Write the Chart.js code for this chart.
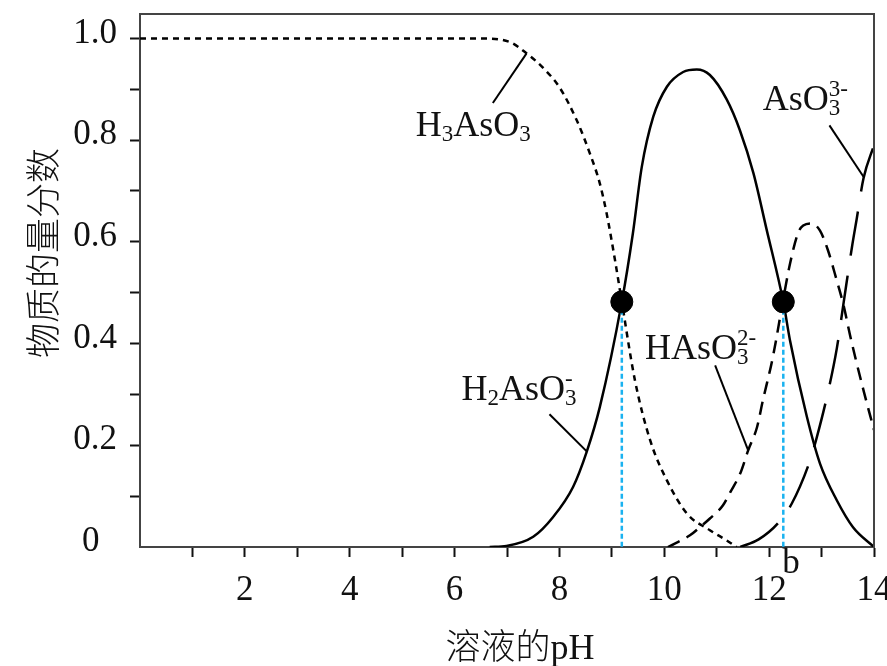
<!DOCTYPE html>
<html>
<head>
<meta charset="utf-8">
<script src="https://cdn.jsdelivr.net/npm/chart.js@4.4.1/dist/chart.umd.min.js"></script>
<style>
  html, body { margin: 0; padding: 0; background: #fff; }
</style>
</head>
<body>
<canvas id="chart" width="887" height="666"></canvas>
<script>
// values (pH -> mole fraction)
const h3PH  = [0, 1, 2, 3, 4, 5, 6, 6.48, 7.05, 7.37, 7.68, 8.0, 8.33, 8.58, 8.77, 8.9, 9.06, 9.19, 9.44, 9.73, 10.05, 10.43, 10.87, 11.19, 11.38];
const h3Val = [1, 1, 1, 1, 1, 1, 1, 1, 0.993, 0.971, 0.943, 0.904, 0.839, 0.774, 0.715, 0.656, 0.564, 0.482, 0.328, 0.21, 0.131, 0.066, 0.033, 0.013, 0];

const h2PH  = [6.67, 6.99, 7.5, 7.88, 8.26, 8.52, 8.77, 9.19, 9.40, 9.57, 9.79, 10.05, 10.36, 10.62, 10.87, 11.19, 11.44, 11.70, 11.95, 12.27, 12.40, 12.72, 12.97, 13.29, 13.6, 14.0];
const h2Val = [0, 0.002, 0.02, 0.059, 0.118, 0.187, 0.275, 0.482, 0.616, 0.747, 0.846, 0.905, 0.934, 0.939, 0.928, 0.880, 0.820, 0.735, 0.625, 0.482, 0.405, 0.256, 0.164, 0.092, 0.039, 0];

const h1PH  = [10.07, 10.49, 10.68, 10.87, 11.12, 11.26, 11.45, 11.6, 11.77, 11.88, 12.07, 12.3, 12.4, 12.55, 12.65, 12.81, 12.97, 13.12, 13.29, 13.42, 13.54, 13.64, 13.8, 14.0];
const h1Val = [0, 0.023, 0.039, 0.056, 0.082, 0.108, 0.145, 0.19, 0.236, 0.288, 0.373, 0.505, 0.558, 0.617, 0.632, 0.636, 0.622, 0.584, 0.524, 0.475, 0.418, 0.374, 0.308, 0.23];

const asPH  = [11.45, 11.8, 12.17, 12.43, 12.78, 12.91, 13.13, 13.29, 13.42, 13.58, 13.67, 13.8, 14.0];
const asVal = [0, 0.015, 0.047, 0.085, 0.17, 0.216, 0.308, 0.39, 0.48, 0.59, 0.645, 0.725, 0.79];

// crossing points
const crossPH  = [9.19, 12.27];
const crossVal = [0.482, 0.482];

const xTicks = [1, 2, 3, 4, 5, 6, 7, 8, 9, 10, 11, 12, 13, 14];
const yTicks = [0, 0.1, 0.2, 0.3, 0.4, 0.5, 0.6, 0.7, 0.8, 0.9, 1.0];

const toPts = (xs, ys) => xs.map((x, i) => ({ x: x, y: ys[i] }));

const SERIF = '"Liberation Serif", "Times New Roman", serif';
const CJK = '"Noto Sans CJK SC", sans-serif';

// species labels: [text, kind] where kind is '', 'sub' or 'subsup'
const labels = [
  { x: 5.26, y: 0.809, parts: [['H', ''], ['3', 'sub'], ['AsO', ''], ['3', 'sub']] },
  { x: 6.13, y: 0.2885, parts: [['H', ''], ['2', 'sub'], ['AsO', ''], ['3', 'subsup', '-']] },
  { x: 9.63, y: 0.369, parts: [['HAsO', ''], ['3', 'subsup', '2-']] },
  { x: 11.88, y: 0.859, parts: [['AsO', ''], ['3', 'subsup', '3-']] }
];
const leaders = [
  [7.37, 0.970, 6.73, 0.873],
  [7.81, 0.261, 8.53, 0.187],
  [10.97, 0.357, 11.6, 0.19],
  [13.15, 0.829, 13.8, 0.728]
];

const drawChem = (ctx, parts, x, y) => {
  let cx = x;
  parts.forEach(p => {
    if (p[1] === '') {
      ctx.font = '36px ' + SERIF;
      ctx.fillText(p[0], cx, y);
      cx += ctx.measureText(p[0]).width;
    } else if (p[1] === 'sub') {
      ctx.font = '23px ' + SERIF;
      ctx.fillText(p[0], cx, y + 5);
      cx += ctx.measureText(p[0]).width;
    } else {
      ctx.font = '23px ' + SERIF;
      ctx.fillText(p[0], cx, y + 5);
      const w1 = ctx.measureText(p[0]).width;
      ctx.fillText(p[2], cx, y - 14);
      cx += Math.max(w1, ctx.measureText(p[2]).width);
    }
  });
};

const decorations = {
  id: 'decorations',
  afterDraw(chart) {
    const ctx = chart.ctx;
    const a = chart.chartArea;
    const xs = chart.scales.x, ys = chart.scales.y;
    ctx.save();
    // frame top and right
    ctx.strokeStyle = '#444';
    ctx.lineWidth = 2;
    ctx.beginPath();
    ctx.moveTo(a.left, a.top);
    ctx.lineTo(a.right, a.top);
    ctx.lineTo(a.right, a.bottom);
    ctx.stroke();

    // leader lines
    ctx.strokeStyle = '#000';
    ctx.lineWidth = 2;
    leaders.forEach(l => {
      ctx.beginPath();
      ctx.moveTo(xs.getPixelForValue(l[0]), ys.getPixelForValue(l[1]));
      ctx.lineTo(xs.getPixelForValue(l[2]), ys.getPixelForValue(l[3]));
      ctx.stroke();
    });

    // species names
    ctx.fillStyle = '#111';
    ctx.textBaseline = 'alphabetic';
    ctx.textAlign = 'left';
    labels.forEach(l => drawChem(ctx, l.parts, xs.getPixelForValue(l.x), ys.getPixelForValue(l.y)));

    ctx.font = '35px ' + SERIF;
    ctx.fillText('b', xs.getPixelForValue(12.25), ys.getPixelForValue(-0.052));

    // axis titles
    ctx.font = '300 35px ' + CJK;
    const t1 = '溶液的';
    const w1 = ctx.measureText(t1).width;
    ctx.font = '36px ' + SERIF;
    const w2 = ctx.measureText('pH').width;
    const tx = 520 - (w1 + w2) / 2;
    ctx.font = '300 35px ' + CJK;
    ctx.fillText(t1, tx, 659);
    ctx.font = '36px ' + SERIF;
    ctx.fillText('pH', tx + w1, 659);

    ctx.translate(43, 253);
    ctx.rotate(-Math.PI / 2);
    ctx.textAlign = 'center';
    ctx.textBaseline = 'middle';
    ctx.font = '300 35px ' + CJK;
    ctx.fillText('物质的量分数', 0, 0);
    ctx.restore();
  }
};

const lineSet = (data, dash) => ({
  data: data,
  showLine: true,
  borderColor: '#000',
  borderWidth: 2.5,
  borderDash: dash,
  pointRadius: 0,
  cubicInterpolationMode: 'monotone',
  order: 3
});

const blueLine = (i) => ({
  data: [{ x: crossPH[i], y: crossVal[i] }, { x: crossPH[i], y: 0 }],
  showLine: true,
  borderColor: '#1ab2f0',
  borderWidth: 2.5,
  borderDash: [5, 3],
  pointRadius: 0,
  order: 2
});

const config = {
  type: 'scatter',
  data: {
    datasets: [
      lineSet(toPts(h3PH, h3Val), [6, 5]),
      lineSet(toPts(h2PH, h2Val), []),
      lineSet(toPts(h1PH, h1Val), [13, 8]),
      lineSet(toPts(asPH, asVal), [45, 20]),
      blueLine(0),
      blueLine(1),
      {
        data: toPts(crossPH, crossVal),
        pointRadius: 11,
        pointBackgroundColor: '#000',
        pointBorderColor: '#000',
        order: 1
      }
    ]
  },
  options: {
    responsive: false,
    animation: false,
    devicePixelRatio: 1,
    layout: { padding: { top: 14, right: 13, left: 0, bottom: 0 }, autoPadding: false },
    plugins: { legend: { display: false }, tooltip: { enabled: false } },
    scales: {
      x: {
        type: 'linear',
        min: 0,
        max: 14,
        afterFit: (scale) => {
          scale.height = 119;
          scale.paddingLeft = 0;
          scale.paddingRight = 0;
        },
        afterBuildTicks: (scale) => { scale.ticks = xTicks.map(v => ({ value: v })); },
        border: { display: true, color: '#444', width: 2 },
        grid: { drawOnChartArea: false, drawTicks: true, tickLength: 10, tickColor: '#111', tickWidth: 2 },
        ticks: {
          padding: 13,
          color: '#111',
          font: { family: SERIF, size: 35 },
          maxRotation: 0,
          autoSkip: false,
          callback: (v) => (v % 2 === 0 ? String(v) : '')
        }
      },
      y: {
        type: 'linear',
        min: 0,
        max: 1.048,
        afterFit: (scale) => {
          scale.width = 140;
          scale.paddingTop = 0;
          scale.paddingBottom = 0;
        },
        afterBuildTicks: (scale) => { scale.ticks = yTicks.map(v => ({ value: v })); },
        border: { display: true, color: '#444', width: 2 },
        grid: {
          drawOnChartArea: false,
          drawTicks: true,
          tickLength: 10,
          tickWidth: 2,
          tickColor: (c) => (c.tick && c.tick.value === 0 ? 'rgba(0,0,0,0)' : '#111')
        },
        ticks: {
          padding: 13,
          color: '#111',
          labelOffset: -5,
          font: { family: SERIF, size: 35 },
          autoSkip: false,
          callback: (v) => {
            const k = Math.round(v * 10);
            if (k % 2 !== 0) return '';
            return k === 0 ? '0  ' : v.toFixed(1);
          }
        }
      }
    }
  },
  plugins: [decorations]
};

new Chart(document.getElementById('chart'), config);
</script>
</body>
</html>
